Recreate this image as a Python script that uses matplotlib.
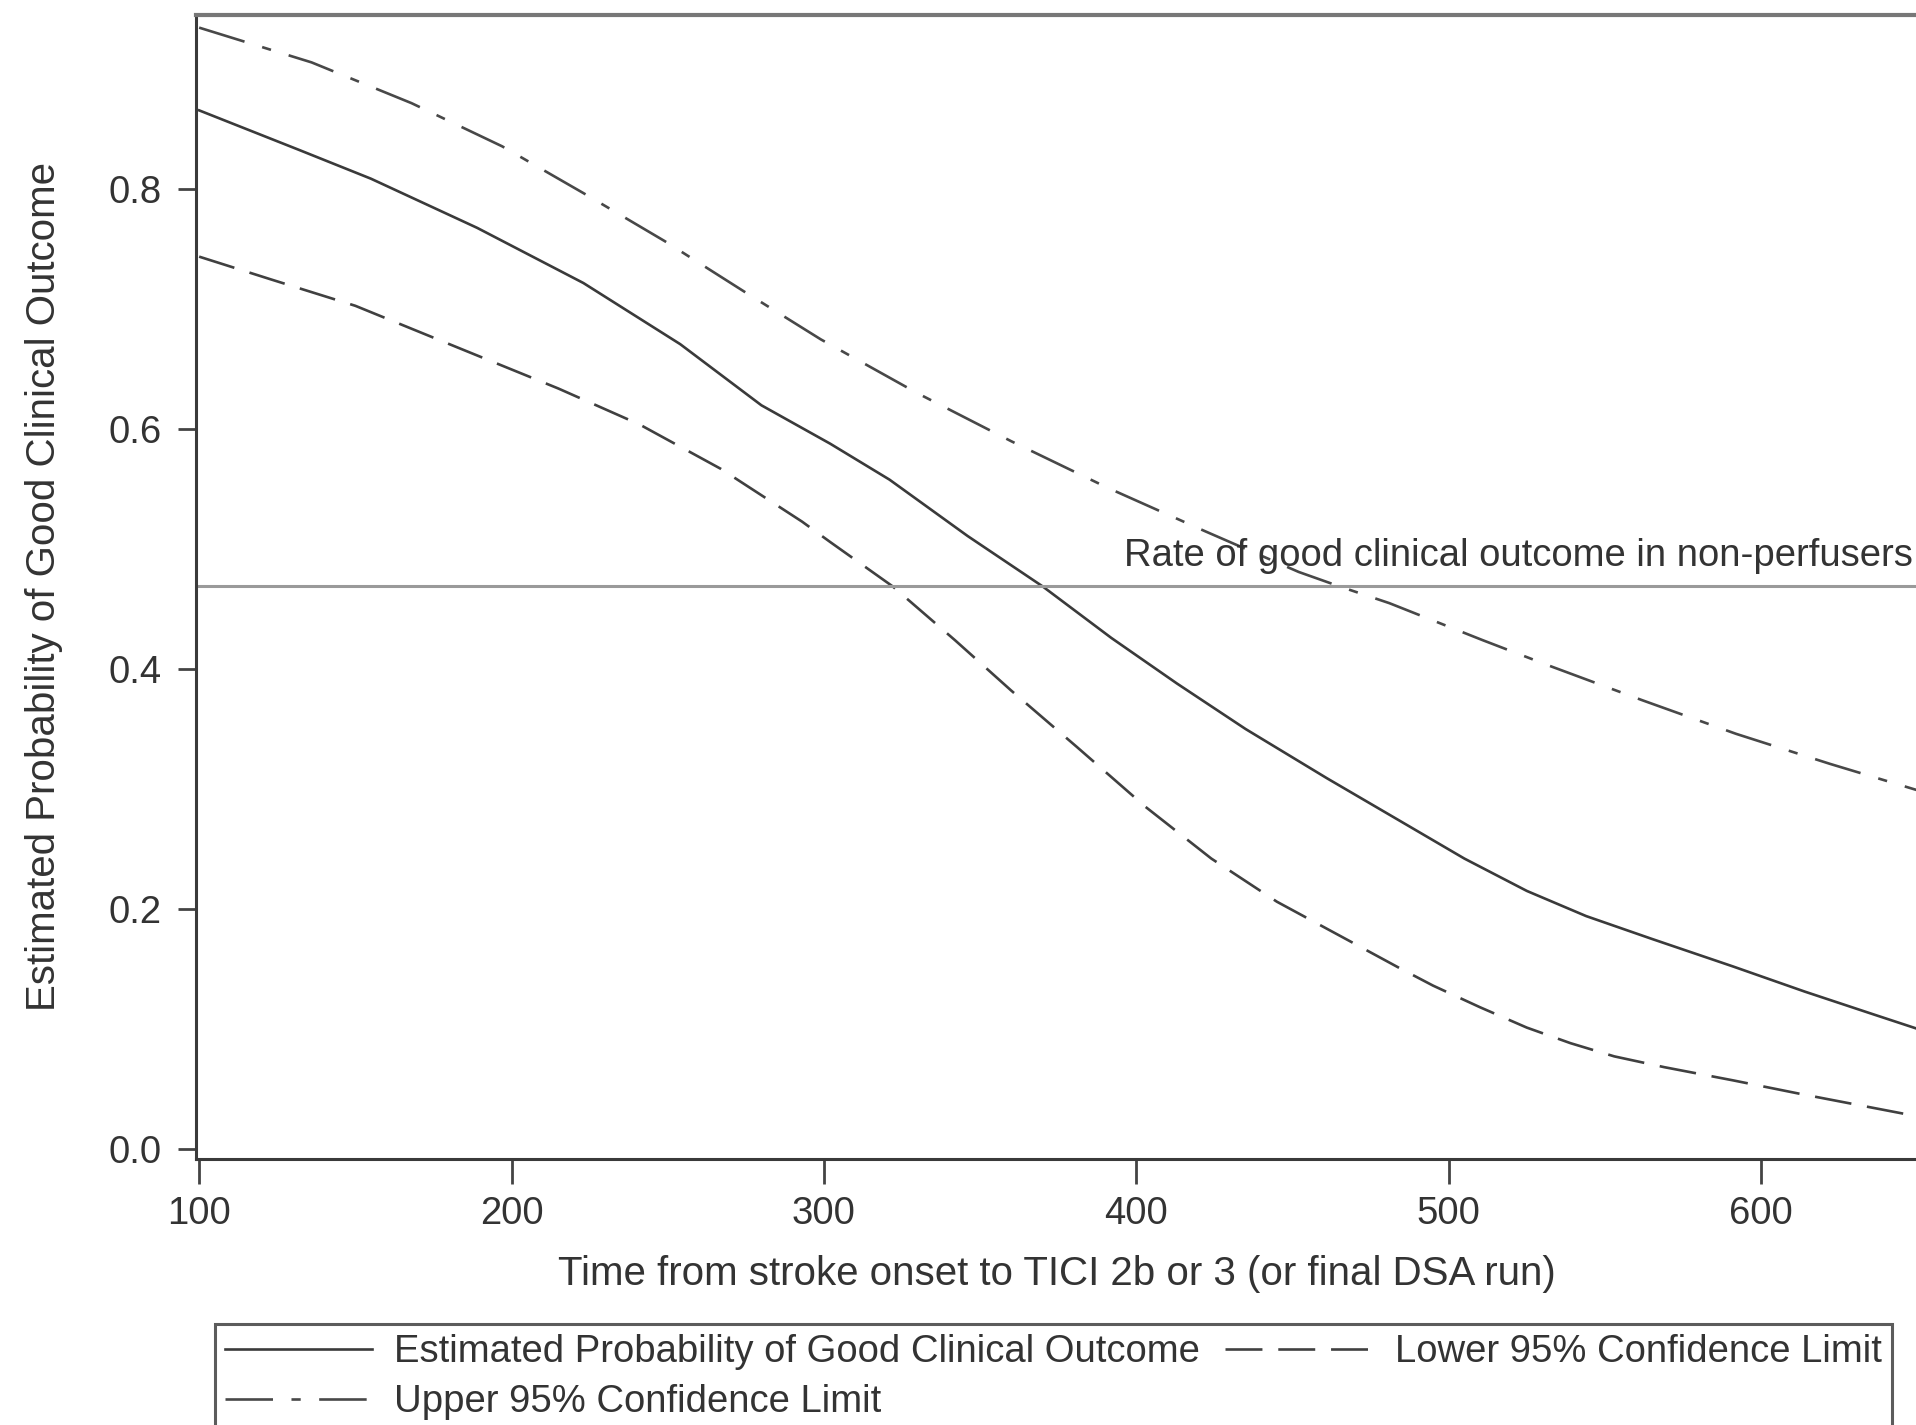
import numpy as np
import matplotlib
matplotlib.use("Agg")
import matplotlib.pyplot as plt

# values (time in minutes, probability)
est_x = [100, 132, 155, 189, 223, 254, 280, 302, 321, 346, 370, 392, 413, 435, 461,
         484, 505, 525, 544, 565, 591, 614, 636, 650]
est_prob = [0.866, 0.833, 0.809, 0.768, 0.722, 0.671, 0.620, 0.588, 0.558, 0.511, 0.469,
            0.426, 0.388, 0.350, 0.309, 0.274, 0.242, 0.215, 0.194, 0.175, 0.152, 0.131,
            0.112, 0.100]

lower_x = [100, 123, 150, 182, 215, 241, 267, 293, 302, 322, 342, 360, 381, 403, 424,
           445, 467, 484, 495, 510, 525, 539, 553, 569, 591, 612, 634, 650]
lower_ci = [0.744, 0.725, 0.703, 0.669, 0.634, 0.604, 0.567, 0.523, 0.506, 0.469, 0.424,
            0.382, 0.335, 0.285, 0.242, 0.206, 0.175, 0.151, 0.136, 0.118, 0.101, 0.088,
            0.077, 0.068, 0.057, 0.046, 0.035, 0.027]

upper_x = [100, 136, 168, 197, 223, 249, 275, 299, 330, 360, 391, 422, 452, 465, 481,
           511, 532, 562, 592, 622, 650]
upper_ci = [0.935, 0.906, 0.872, 0.836, 0.797, 0.757, 0.714, 0.675, 0.630, 0.590, 0.551,
            0.515, 0.481, 0.469, 0.455, 0.424, 0.403, 0.374, 0.346, 0.321, 0.299]

nonperf_rate = 0.469
yticks = [0.0, 0.2, 0.4, 0.6, 0.8]
xticks = [100, 200, 300, 400, 500, 600]

plt.rcParams['font.family'] = ['Liberation Sans', 'DejaVu Sans']
txt = '#333333'
fs = 27.5

fig = plt.figure(figsize=(19.16, 14.25), dpi=100)
ax = fig.add_axes([0.1023, 0.187, 0.90, 0.8027])

lw = 1.9
ax.plot(est_x, est_prob, color='#3a3a3a', lw=lw, label='Estimated Probability of Good Clinical Outcome')
ax.plot(upper_x, upper_ci, color='#484848', lw=lw, linestyle=(0, (18, 7, 3.5, 7)),
        label='Upper 95% Confidence Limit')
ax.plot(lower_x, lower_ci, color='#404040', lw=lw, linestyle=(0, (14, 6)),
        label='Lower 95% Confidence Limit')

ax.axhline(nonperf_rate, color='#9a9a9a', lw=2.2)
ax.text(648.5, 0.494, 'Rate of good clinical outcome in non-perfusers', ha='right', va='center',
        fontsize=fs, color=txt)

ax.set_xlim(99, 651)
ax.set_ylim(-0.0082, 0.9458)
ax.set_xticks(xticks)
ax.set_yticks(yticks)
ax.set_yticklabels([f'{v:.1f}' for v in yticks])
ax.tick_params(axis='y', length=13, width=2, color='#444444', labelsize=fs, labelcolor=txt, pad=12)
ax.tick_params(axis='x', length=18, width=2, color='#444444', labelsize=fs, labelcolor=txt, pad=9)

for side in ['left', 'bottom']:
    ax.spines[side].set_color('#3a3a3a')
    ax.spines[side].set_linewidth(2.2)
ax.spines['top'].set_color('#777777')
ax.spines['top'].set_linewidth(3)
ax.spines['right'].set_visible(False)

ax.set_xlabel('Time from stroke onset to TICI 2b or 3 (or final DSA run)', fontsize=29, color=txt)
ax.set_ylabel('Estimated Probability of Good Clinical Outcome', fontsize=29, color=txt)
ax.xaxis.set_label_coords(0.499, -0.084)
ax.yaxis.set_label_coords(-0.077, 0.5)

h, l = ax.get_legend_handles_labels()
leg = fig.legend(h, l, ncol=2, loc='upper left', bbox_to_anchor=(0.1122, 0.0709),
                 fontsize=fs, frameon=True, fancybox=False, edgecolor='#333333',
                 handlelength=3.84, handletextpad=0.6, columnspacing=0.65,
                 borderpad=0.26, labelspacing=0.38, borderaxespad=0)
leg.get_frame().set_linewidth(2.2)
for t in leg.get_texts():
    t.set_color(txt)

fig.savefig('out.png', dpi=100)
